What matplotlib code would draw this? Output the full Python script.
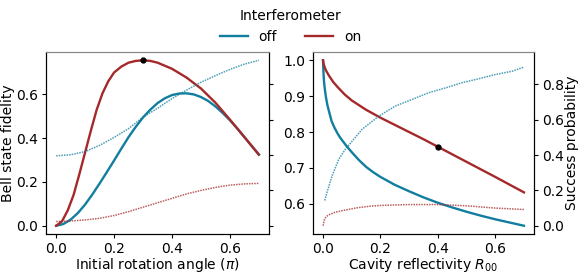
import numpy as np
import matplotlib
matplotlib.use("Agg")
from matplotlib import pyplot as plt

# colours for the two interferometer settings
c_off = "#117e9f"
c_on = "#a5292a"

# --- left panel: initial rotation angle (units of pi)
angle_off = [0, 0.025, 0.05, 0.075, 0.1, 0.125, 0.15, 0.175, 0.2, 0.225, 0.25, 0.275, 0.3, 0.325, 0.35,
             0.375, 0.4, 0.425, 0.45, 0.475, 0.5, 0.525, 0.55, 0.575, 0.6, 0.625, 0.65, 0.675, 0.7]
fid_angle_off = [0, 0.008, 0.028, 0.058, 0.097, 0.143, 0.193, 0.245, 0.298, 0.352, 0.405, 0.452, 0.495, 0.53, 0.56,
                 0.582, 0.597, 0.604, 0.605, 0.60, 0.588, 0.57, 0.545, 0.515, 0.482, 0.445, 0.405, 0.365, 0.325]

angle_on = [0, 0.02, 0.04, 0.06, 0.08, 0.1, 0.12, 0.14, 0.16, 0.18, 0.2, 0.225, 0.25, 0.275, 0.3, 0.325, 0.35,
            0.4, 0.45, 0.5, 0.55, 0.6, 0.65, 0.7]
fid_angle_on = [0, 0.02, 0.07, 0.14, 0.235, 0.335, 0.435, 0.53, 0.605, 0.66, 0.70, 0.727, 0.745, 0.753, 0.756, 0.753, 0.745,
                0.717, 0.677, 0.627, 0.562, 0.485, 0.405, 0.325]

angle_p = [0, 0.05, 0.1, 0.15, 0.2, 0.25, 0.3, 0.35, 0.4, 0.45, 0.5, 0.55, 0.6, 0.65, 0.7]
prob_angle_off = [0.396, 0.402, 0.42, 0.455, 0.50, 0.55, 0.615, 0.665, 0.72, 0.768, 0.812, 0.85, 0.885, 0.915, 0.937]
prob_angle_on = [0.024, 0.027, 0.033, 0.042, 0.058, 0.08, 0.105, 0.13, 0.155, 0.18, 0.20, 0.217, 0.23, 0.237, 0.24]

best_angle = 0.3
best_angle_fid = 0.756

# --- right panel: cavity reflectivity R00
refl_off = [0, 0.001, 0.003, 0.005, 0.0075, 0.01, 0.015, 0.02, 0.03, 0.04, 0.05, 0.06, 0.08, 0.1, 0.125, 0.15,
            0.175, 0.2, 0.25, 0.3, 0.35, 0.4, 0.45, 0.5, 0.55, 0.6, 0.65, 0.7]
fid_refl_off = [1.0, 0.975, 0.945, 0.928, 0.912, 0.898, 0.876, 0.86, 0.83, 0.812, 0.797, 0.784, 0.763, 0.744, 0.722, 0.703,
                0.688, 0.675, 0.653, 0.635, 0.618, 0.603, 0.59, 0.578, 0.567, 0.557, 0.548, 0.539]

refl_on = [0, 0.002, 0.005, 0.01, 0.02, 0.035, 0.05, 0.075, 0.1, 0.15, 0.2, 0.25, 0.3, 0.35, 0.4, 0.5, 0.6, 0.7]
fid_refl_on = [1.0, 0.99, 0.982, 0.972, 0.958, 0.94, 0.926, 0.905, 0.888, 0.862, 0.84, 0.82, 0.80, 0.78, 0.759,
               0.717, 0.675, 0.632]

refl_p_off = [0.006, 0.014, 0.031, 0.055, 0.078, 0.136, 0.194, 0.252, 0.31, 0.368, 0.426, 0.484, 0.542, 0.6, 0.659, 0.7]
prob_refl_off = [0.143, 0.19, 0.28, 0.377, 0.434, 0.546, 0.62, 0.678, 0.715, 0.753, 0.78, 0.81, 0.832, 0.856, 0.875, 0.898]

refl_p_on = [0, 0.005, 0.01, 0.02, 0.04, 0.06, 0.08, 0.12, 0.16, 0.2, 0.3, 0.4, 0.5, 0.6, 0.7]
prob_refl_on = [0.0, 0.035, 0.05, 0.062, 0.075, 0.083, 0.09, 0.102, 0.11, 0.115, 0.12, 0.12, 0.113, 0.10, 0.092]

best_refl = 0.4
best_refl_fid = 0.759

plt.rcParams["font.size"] = 10
plt.rcParams["xtick.major.size"] = 3
plt.rcParams["ytick.major.size"] = 3
plt.rcParams["xtick.major.pad"] = 2.5
plt.rcParams["ytick.major.pad"] = 2.5

fig = plt.figure(figsize=(5.81, 2.75), dpi=100)
ax1 = fig.add_axes([0.0792, 0.149, 0.3838, 0.662])
ax2 = fig.add_axes([0.5387, 0.149, 0.3804, 0.662])
ax1b = ax1.twinx()
ax2b = ax2.twinx()
ax1b.sharey(ax2b)

lw = 1.7
dot = (0, (1, 0.7))

# left panel
ax1.plot(angle_off, fid_angle_off, color=c_off, lw=lw, label="off")
ax1.plot(angle_on, fid_angle_on, color=c_on, lw=lw, label="on")
ax1.plot(best_angle, best_angle_fid, "o", color="black", ms=3.5, zorder=5)
ax1b.plot(angle_p, prob_angle_off, color=c_off, lw=1.1, ls=dot, alpha=0.75)
ax1b.plot(angle_p, prob_angle_on, color=c_on, lw=1.1, ls=dot, alpha=0.75)
ax1.set_xlabel("Initial rotation angle ($\\pi$)", labelpad=0)
ax1.set_ylabel("Bell state fidelity", labelpad=1)
ax1.set_xticks([0.0, 0.2, 0.4, 0.6])
ax1.set_yticks([0.0, 0.2, 0.4, 0.6])
ax1b.tick_params(labelright=False)

# right panel
ax2.plot(refl_off, fid_refl_off, color=c_off, lw=lw)
ax2.plot(refl_on, fid_refl_on, color=c_on, lw=lw)
ax2.plot(best_refl, best_refl_fid, "o", color="black", ms=3.5, zorder=5)
ax2b.plot(refl_p_off, prob_refl_off, color=c_off, lw=1.1, ls=dot, alpha=0.75)
ax2b.plot(refl_p_on, prob_refl_on, color=c_on, lw=1.1, ls=dot, alpha=0.75)
ax2.set_xlabel("Cavity reflectivity $R_{00}$", labelpad=0)
ax2b.set_ylabel("Success probability", labelpad=1)
ax2.set_xticks([0.0, 0.2, 0.4, 0.6])
ax2.set_yticks([0.6, 0.7, 0.8, 0.9, 1.0])
ax2b.set_yticks([0.0, 0.2, 0.4, 0.6, 0.8])

for a in (ax1, ax2, ax1b, ax2b):
    a.spines["top"].set_color("#888888")

fig.legend(*ax1.get_legend_handles_labels(), loc="upper center", bbox_to_anchor=(0.5, 1.012),
           ncol=2, frameon=False, title="Interferometer")

plt.savefig("out.png", dpi=100)
